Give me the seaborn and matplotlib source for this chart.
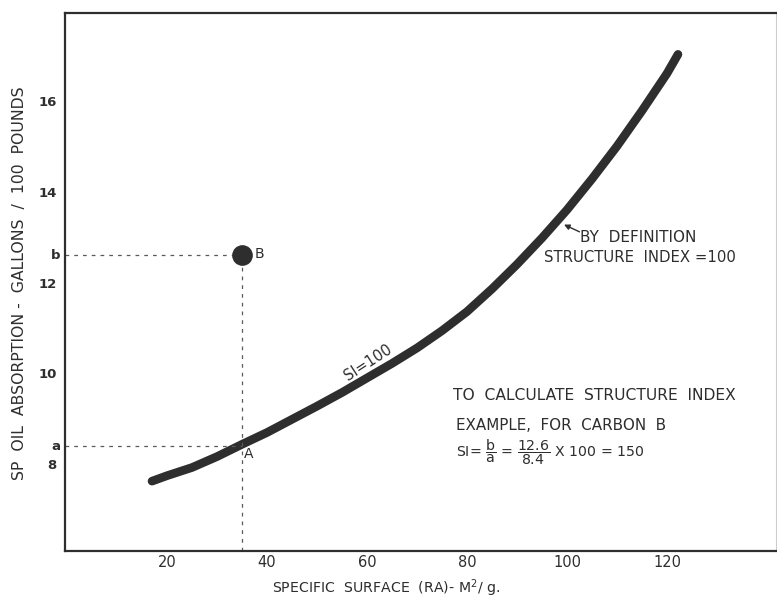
import matplotlib
matplotlib.use("Agg")
import matplotlib.pyplot as plt
import matplotlib.transforms as mtransforms
import seaborn as sns
import pandas as pd

# ---- data ----
surface = [17, 20, 25, 30, 35, 40, 45, 50, 55, 60, 65, 70, 75, 80, 85, 90, 95, 100,
           105, 110, 115, 120, 122.2]
oil_abs = [7.63, 7.75, 7.93, 8.17, 8.44, 8.70, 8.99, 9.28, 9.58, 9.90, 10.22, 10.56,
           10.94, 11.36, 11.86, 12.40, 12.98, 13.60, 14.28, 15.00, 15.78, 16.60, 17.02]
carbon_b_x = [35]
carbon_b_y = [12.6]
a_value = 8.4
b_value = 12.6
xticks = [20, 40, 60, 80, 100, 120, 140]
xtick_labels = ["20", "40", "60", "80", "100", "120", ""]
yticks = [8, 10, 12, 14, 16]
ytick_labels = ["8", "10", "12", "14", "16"]

INK = "#2e2e2e"

sns.set_style("white")
plt.rcParams["font.family"] = ["DejaVu Sans"]
plt.rcParams["mathtext.fontset"] = "dejavusans"

fig = plt.figure(figsize=(7.77, 6.0), dpi=100)
ax = fig.add_axes([65 / 777, 49.3 / 600, 711 / 777, 537.7 / 600])

curve = pd.DataFrame({"x": surface, "y": oil_abs})
sns.lineplot(data=curve, x="x", y="y", ax=ax, color=INK, linewidth=6.2,
             solid_capstyle="round", solid_joinstyle="round", sort=True, estimator=None)

pt = pd.DataFrame({"x": carbon_b_x, "y": carbon_b_y})
sns.scatterplot(data=pt, x="x", y="y", ax=ax, color=INK, s=190, edgecolor=INK, zorder=5)

# dashed construction lines
dash = dict(ls=(0, (3, 4)), color="#5a5a5a", lw=0.9)
ax.plot([-0.4, carbon_b_x[0]], [b_value, b_value], **dash)
ax.plot([-0.4, carbon_b_x[0]], [a_value, a_value], **dash)
ax.plot([carbon_b_x[0], carbon_b_x[0]], [6.1, b_value], **dash)

ax.set_xlim(-0.4, 141.8)
ax.set_ylim(6.1, 17.93)
ax.set_xticks(xticks)
ax.set_xticklabels(xtick_labels, fontsize=10.5, color=INK)
ax.set_yticks(yticks)
ax.set_yticklabels(ytick_labels, fontsize=9.5, fontweight="bold", color=INK)
ax.tick_params(axis="both", direction="in", length=6, width=1.4, color=INK)
ax.tick_params(axis="x", pad=3)
ax.tick_params(axis="y", pad=6)

for side in ["left", "bottom", "top"]:
    ax.spines[side].set_linewidth(1.6)
    ax.spines[side].set_color(INK)
ax.spines["right"].set_linewidth(0.8)
ax.spines["right"].set_color("#cccccc")

ax.set_xlabel("")
ax.set_ylabel("")
ax.grid(False)

# axis titles
fig.text(20 / 777, 1 - 283 / 600, "SP  OIL  ABSORPTION -  GALLONS  /  100  POUNDS",
         rotation=90, ha="center", va="center", fontsize=11.3, color=INK)
fig.text(386 / 777, 1 - 588 / 600, r"SPECIFIC  SURFACE  (RA)- M$^2$/ g.",
         ha="center", va="center", fontsize=10.2, color=INK)

# a / b markers on y axis
trans = mtransforms.blended_transform_factory(ax.transAxes, ax.transData)
ax.text(-0.006, b_value, "b", transform=trans, ha="right", va="center", fontsize=9.5,
        fontweight="bold", color=INK)
ax.text(-0.006, a_value, "a", transform=trans, ha="right", va="center", fontsize=9.5,
        fontweight="bold", color=INK)

# point labels
ax.text(37.5, 12.63, "B", ha="left", va="center", fontsize=10, color=INK)
ax.text(35.3, 8.22, "A", ha="left", va="center", fontsize=10, color=INK)

ax.text(60.3, 10.24, "SI=100", rotation=33, ha="center", va="center", fontsize=10.5,
        color=INK, rotation_mode="anchor", zorder=6)

# annotation with arrow
ax.annotate("", xy=(98.9, 13.3), xytext=(103, 13.09),
            arrowprops=dict(arrowstyle="-|>", color=INK, lw=1.0, mutation_scale=8))
ax.text(102.6, 12.98, "BY  DEFINITION", ha="left", va="center", fontsize=11, color=INK)
ax.text(95.4, 12.56, "STRUCTURE  INDEX =100", ha="left", va="center", fontsize=10.7,
        color=INK)

ax.text(77.2, 9.52, "TO  CALCULATE  STRUCTURE  INDEX", ha="left", va="center",
        fontsize=11.2, color=INK)
ax.text(77.8, 8.86, "EXAMPLE,  FOR  CARBON  B", ha="left", va="center", fontsize=10.9,
        color=INK)
ax.text(77.8, 8.27, r"SI= $\dfrac{\mathrm{b}}{\mathrm{a}}$ = $\dfrac{12.6}{8.4}$ X 100 = 150",
        ha="left", va="center", fontsize=10.2, color=INK)

fig.savefig("out.png", dpi=100, facecolor="white")
